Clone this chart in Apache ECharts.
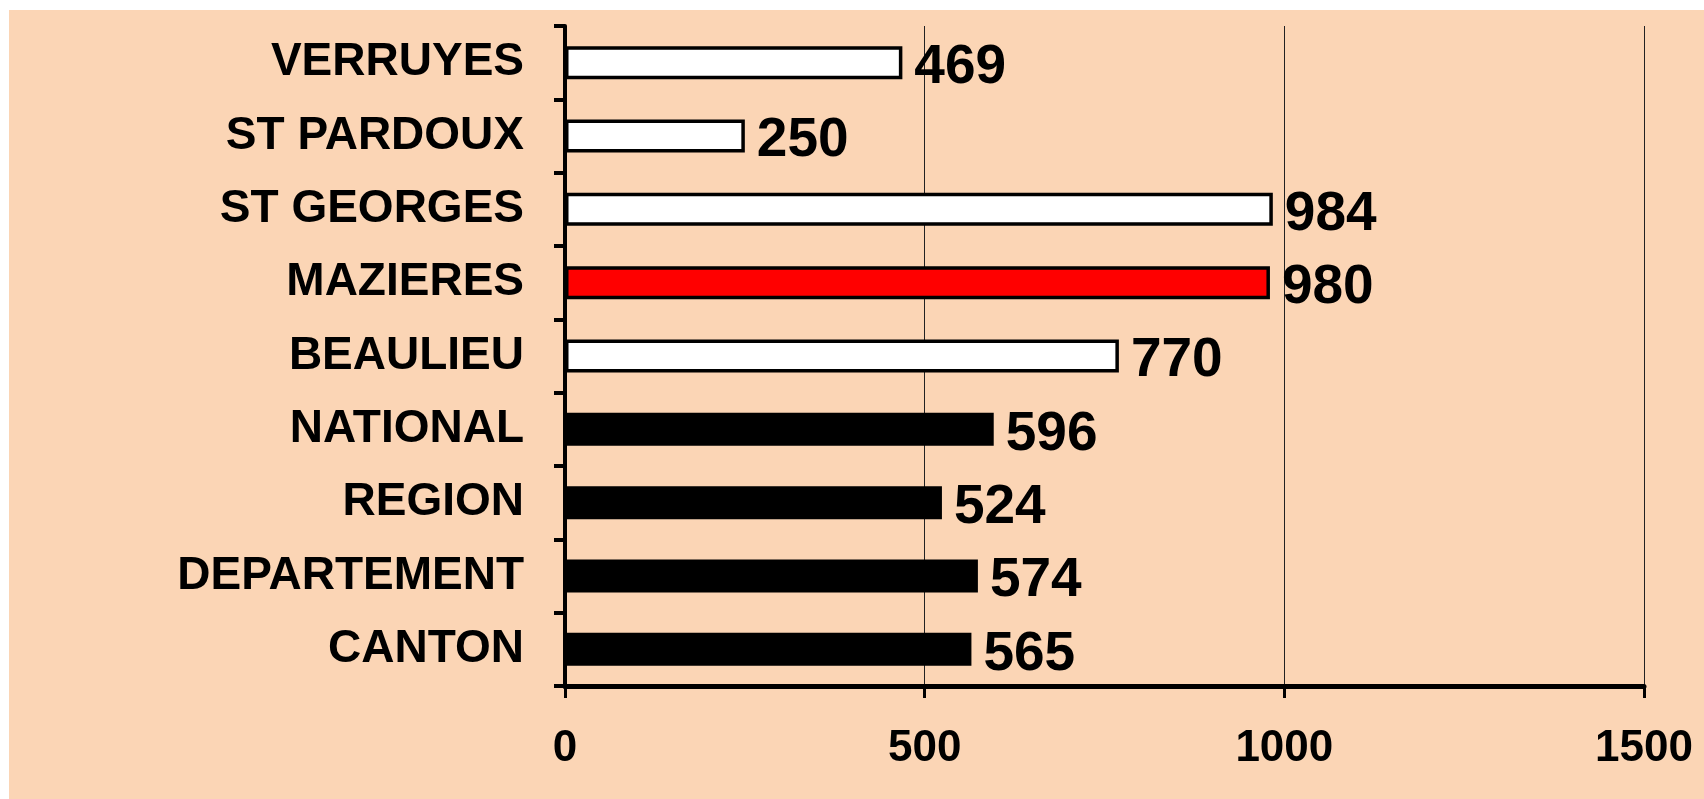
<!DOCTYPE html>
<html>
<head>
<meta charset="utf-8">
<script src="https://cdn.jsdelivr.net/npm/echarts@6/dist/echarts.min.js"></script>
<style>
  html, body { margin: 0; padding: 0; background: #ffffff; }
  #main { position: absolute; left: 9px; top: 10px; width: 1695px; height: 789px; }
</style>
</head>
<body>
<div id="main"></div>
<script>
// categories listed bottom -> top (ECharts category y axis starts at the bottom)
const communes = ["CANTON", "DEPARTEMENT", "REGION", "NATIONAL", "BEAULIEU", "MAZIERES", "ST GEORGES", "ST PARDOUX", "VERRUYES"];
const valeurs = [565, 574, 524, 596, 770, 980, 984, 250, 469];
const couleurs = ["#000000", "#000000", "#000000", "#000000", "#ffffff", "#ff0000", "#ffffff", "#ffffff", "#ffffff"];
const xTicks = [0, 500, 1000, 1500];

const FONT = "'Liberation Sans', Arial, sans-serif";

const myChart = echarts.init(document.getElementById("main"));

const option = {
  backgroundColor: "#fbd5b5",
  animation: false,
  grid: {
    left: 556,
    top: 16,
    width: 1079,
    height: 660,
  },
  xAxis: {
    type: "value",
    min: xTicks[0],
    max: xTicks[xTicks.length - 1],
    interval: 500,
    axisLine: { show: true, lineStyle: { color: "#000", width: 5 } },
    axisTick: { show: true, length: 12, lineStyle: { color: "#000", width: 3 } },
    splitLine: { show: true, lineStyle: { color: "#222", width: 1 } },
    axisLabel: {
      color: "#000",
      fontFamily: FONT,
      fontWeight: "bold",
      fontSize: 44,
      margin: 41,
      formatter: (v) => String(v),
    },
  },
  yAxis: {
    type: "category",
    data: communes,
    axisLine: { show: true, lineStyle: { color: "#000", width: 4 } },
    axisTick: { show: true, length: 11, lineStyle: { color: "#000", width: 4 } },
    axisLabel: {
      color: "#000",
      fontFamily: FONT,
      fontWeight: "bold",
      fontSize: 46,
      margin: 41,
      padding: [14, 0, 0, 0],
    },
  },
  series: [
    {
      type: "bar",
      barWidth: 33,
      data: valeurs.map((v, i) => ({
        value: v,
        itemStyle: { color: couleurs[i] },
      })),
      itemStyle: { borderColor: "#000", borderWidth: 3.5 },
      label: {
        show: true,
        position: "right",
        distance: 12,
        offset: [0, 5],
        color: "#000",
        fontFamily: FONT,
        fontWeight: "bold",
        fontSize: 55,
      },
    },
  ],
};

myChart.setOption(option);
</script>
</body>
</html>
